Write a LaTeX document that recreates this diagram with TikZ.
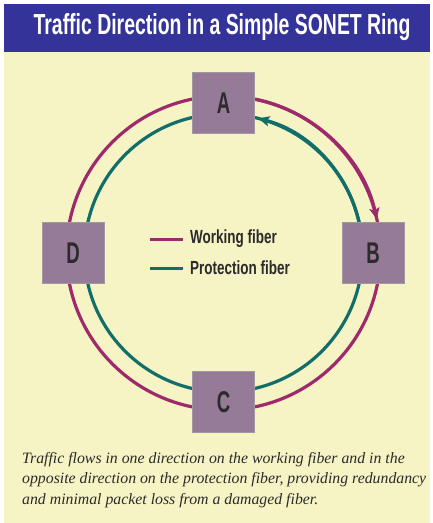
\documentclass[tikz,border=0pt]{standalone}
\usepackage{fontspec}
\setmainfont{Liberation Serif}
\newfontfamily\condfont[FakeStretch=0.62]{Liberation Sans}
\newfontfamily\titlefont[FakeStretch=0.67]{Liberation Sans}
\newfontfamily\legendfont[FakeStretch=0.71]{Liberation Sans}
\usetikzlibrary{arrows.meta,calc}
\definecolor{titleblue}{HTML}{333399}
\definecolor{paper}{HTML}{F6F3C4}
\definecolor{boxfill}{HTML}{957B98}
\definecolor{boxline}{HTML}{A09AA0}
\definecolor{workc}{HTML}{9E2A6C}
\definecolor{protc}{HTML}{126E69}
\definecolor{ink}{HTML}{2B2B2B}
\tikzset{
  station/.style={draw=boxline, line width=1pt, fill=boxfill, minimum width=62pt, minimum height=61pt, inner sep=0pt,
    font=\condfont\bfseries\fontsize{30}{30}\selectfont, text=ink},
  work/.style={draw=workc, line width=3.2pt},
  prot/.style={draw=protc, line width=3.2pt},
  tip/.style={-{Stealth[length=11pt,width=10pt,inset=2pt]}},
  legendtext/.style={font=\legendfont\bfseries\fontsize{19}{19}\selectfont, text=ink, anchor=west, inner sep=0pt}
}
\begin{document}
\begin{tikzpicture}[x=1pt,y=1pt]
\useasboundingbox (0,0) rectangle (433,-523);
\fill[white] (0,0) rectangle (433,-523);
% background
\fill[paper] (4,-52) rectangle (430,-523);
\fill[titleblue] (4,-4) rectangle (430,-52);
\node[text=white, font=\titlefont\bfseries\fontsize{29}{29}\selectfont, inner sep=0pt] (title) at (222,-27) {Traffic Direction in a Simple SONET Ring};
% ring centre
\coordinate (O) at (223.5,-253);
% rings
\draw[work] (O) circle[radius=157];
\draw[prot] (O) circle[radius=139];
\draw[work, tip] ($(O)+(78:157)$) arc[start angle=78, end angle=12.5, radius=157];
\draw[prot, tip] ($(O)+(12.5:139)$) arc[start angle=12.5, end angle=75.5, radius=139];
% stations
\node[station] (A) at (223.5,-103) {A};
\node[station] (B) at (373,-253) {B};
\node[station] (C) at (223.5,-402) {C};
\node[station] (D) at (73,-253) {D};
% legend
\coordinate (w1) at (150,-239);
\coordinate (w2) at (183,-239);
\coordinate (p1) at (150,-268);
\coordinate (p2) at (183,-268);
\draw[workc, line width=3pt] (w1) -- (w2);
\draw[protc, line width=3pt] (p1) -- (p2);
\node[legendtext] (wl) at (190,-239) {Working fiber};
\node[legendtext] (pl) at (190,-268) {Protection fiber};
% caption
\node[anchor=north west, align=left, inner sep=0pt, text=ink, font=\itshape\fontsize{15.8}{20.5}\selectfont] (cap) at (22,-452)
  {Traffic flows in one direction on the working fiber and in the\\
   opposite direction on the protection fiber, providing redundancy\\
   and minimal packet loss from a damaged fiber.};
\end{tikzpicture}
\end{document}
